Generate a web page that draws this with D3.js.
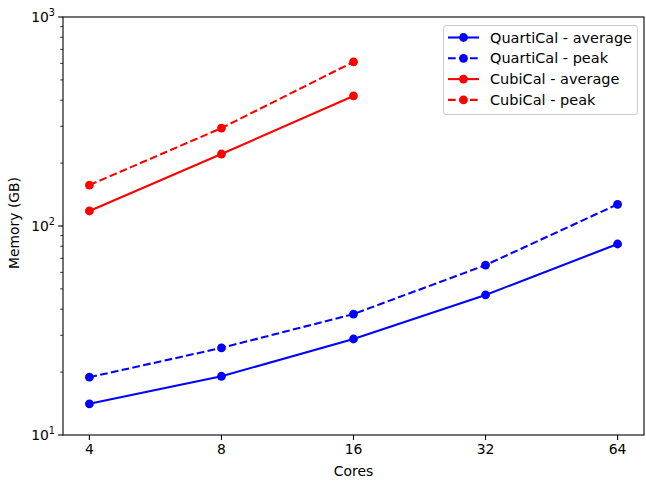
<!DOCTYPE html>
<html><head><meta charset="utf-8">
<script src="https://cdn.jsdelivr.net/npm/d3@7"></script>
<style>body{margin:0;background:#fff;} text{font-family:"DejaVu Sans",sans-serif;}</style>
</head><body>
<svg id="c" width="646" height="484"></svg>
<script>
const cores = [4, 8, 16, 32, 64];
const quartiAvg = [14.1, 19.1, 28.8, 46.8, 82];
const quartiPeak = [18.9, 26.1, 37.9, 65, 127];
const cubiCores = [4, 8, 16];
const cubiAvg = [118, 221, 419];
const cubiPeak = [157, 294, 610];
const yTicks = [10, 100, 1000];
const yTickExp = ["1", "2", "3"];

const series = [
  {name: "QuartiCal - average", x: cores, y: quartiAvg, color: "#0000ff", dash: null},
  {name: "QuartiCal - peak", x: cores, y: quartiPeak, color: "#0000ff", dash: "7.7,3.3"},
  {name: "CubiCal - average", x: cubiCores, y: cubiAvg, color: "#ff0000", dash: null},
  {name: "CubiCal - peak", x: cubiCores, y: cubiPeak, color: "#ff0000", dash: "7.7,3.3"}
];

const L = 63, R = 644, T = 17, B = 435;
const svg = d3.select("#c");
const x = d3.scaleLog().base(2).domain([Math.pow(2, 1.8), Math.pow(2, 6.2)]).range([L, R]);
const y = d3.scaleLog().domain([10, 1000]).range([B, T]);
const fs = 13.9;

// minor y ticks
const minor = [];
for (let d = 10; d < 1000; d *= 10) for (let k = 2; k <= 9; k++) minor.push(k * d);
svg.append("g").selectAll("line").data(minor).join("line")
  .attr("x1", L).attr("x2", L - 2.8).attr("y1", d => y(d)).attr("y2", d => y(d))
  .attr("stroke", "#000").attr("stroke-width", 0.8);

// major y ticks
const yt = svg.append("g").selectAll("g").data(yTicks).join("g");
yt.append("line").attr("x1", L).attr("x2", L - 4.9).attr("y1", d => y(d)).attr("y2", d => y(d))
  .attr("stroke", "#000").attr("stroke-width", 1.1);
const ytxt = yt.append("text").attr("x", L - 8).attr("y", d => y(d) + 5).attr("text-anchor", "end")
  .attr("font-size", fs);
ytxt.append("tspan").text("10");
ytxt.append("tspan").attr("dy", -6).attr("font-size", 9.7).text((d, i) => yTickExp[i]);

// x ticks
const xt = svg.append("g").selectAll("g").data(cores).join("g");
xt.append("line").attr("x1", d => x(d)).attr("x2", d => x(d)).attr("y1", B).attr("y2", B + 4.9)
  .attr("stroke", "#000").attr("stroke-width", 1.1);
xt.append("text").attr("x", d => x(d)).attr("y", B + 19).attr("text-anchor", "middle")
  .attr("font-size", fs).text(d => d);

// labels
svg.append("text").attr("x", (L + R) / 2).attr("y", 476).attr("text-anchor", "middle")
  .attr("font-size", fs).text("Cores");
svg.append("text").attr("transform", `translate(19,${(T + B) / 2 - 3}) rotate(-90)`)
  .attr("text-anchor", "middle").attr("font-size", fs).text("Memory (GB)");

// series
const line = d3.line().x(d => x(d[0])).y(d => y(d[1]));
series.forEach(s => {
  const pts = s.x.map((v, i) => [v, s.y[i]]);
  svg.append("path").attr("d", line(pts)).attr("fill", "none").attr("stroke", s.color)
    .attr("stroke-width", 2.08).attr("stroke-dasharray", s.dash);
  svg.append("g").selectAll("circle").data(pts).join("circle")
    .attr("cx", d => x(d[0])).attr("cy", d => y(d[1])).attr("r", 4.4).attr("fill", s.color);
});

// frame
svg.append("rect").attr("x", L).attr("y", T).attr("width", R - L).attr("height", B - T)
  .attr("fill", "none").attr("stroke", "#000").attr("stroke-width", 1.1);

// legend
const lg = svg.append("g");
lg.append("rect").attr("x", 443.5).attr("y", 25.5).attr("width", 194).attr("height", 89).attr("rx", 2.5)
  .attr("fill", "#fff").attr("fill-opacity", 0.8).attr("stroke", "#cccccc").attr("stroke-width", 1);
series.forEach((s, i) => {
  const cy = 37.5 + i * 20.8;
  lg.append("line").attr("x1", 448).attr("x2", 479).attr("y1", cy).attr("y2", cy)
    .attr("stroke", s.color).attr("stroke-width", 2.08).attr("stroke-dasharray", s.dash);
  lg.append("circle").attr("cx", 463.5).attr("cy", cy).attr("r", 4.4).attr("fill", s.color);
  lg.append("text").attr("x", 490).attr("y", cy + 5).attr("font-size", 14.5).text(s.name);
});
</script>
</body></html>
